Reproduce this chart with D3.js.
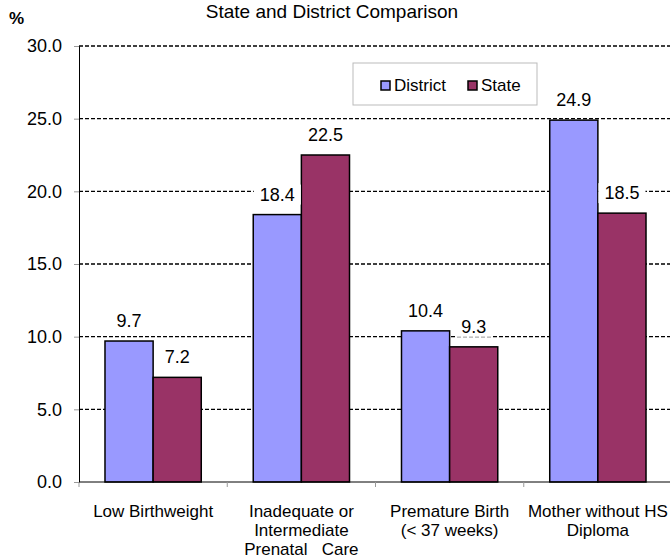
<!DOCTYPE html>
<html>
<head>
<meta charset="utf-8">
<script src="https://cdn.jsdelivr.net/npm/d3@7"></script>
<style>
  body { margin: 0; background: #fff; }
  text { font-family: "Liberation Sans", Arial, sans-serif; fill: #000; }
</style>
</head>
<body>
<div id="chart"></div>
<script>
const categories = [
  ["Low Birthweight"],
  ["Inadequate or", "Intermediate", "Prenatal   Care"],
  ["Premature Birth", "(< 37 weeks)"],
  ["Mother without HS", "Diploma"]
];
const seriesNames = ["District", "State"];
const districtValues = [9.7, 18.4, 10.4, 24.9];
const stateValues = [7.2, 22.5, 9.3, 18.5];
const yTicks = [0, 5, 10, 15, 20, 25, 30];
const colors = ["#9999FF", "#993366"];

const width = 670, height = 559;
const margin = { top: 46, right: -2, bottom: 77, left: 79 };
const innerW = width - margin.left - margin.right;
const innerH = height - margin.top - margin.bottom;

const svg = d3.select("#chart").append("svg")
  .attr("width", width).attr("height", height);

const g = svg.append("g").attr("transform", `translate(${margin.left},${margin.top})`);

const x = d3.scaleBand().domain(d3.range(categories.length)).range([0, innerW]);
const x1 = d3.scaleBand().domain([0, 1]).range([0, x.bandwidth()]).paddingOuter(0.54).paddingInner(0);
const y = d3.scaleLinear().domain([0, 30]).range([innerH, 0]);

// gridlines
g.selectAll("line.grid").data(yTicks.filter(d => d > 0)).join("line")
  .attr("class", "grid")
  .attr("x1", 0).attr("x2", innerW)
  .attr("y1", d => y(d)).attr("y2", d => y(d))
  .attr("stroke", "#000").attr("stroke-width", 1.3)
  .attr("stroke-dasharray", "4,2");

// y axis
const yAxis = g.append("g").call(d3.axisLeft(y).tickValues(yTicks).tickFormat(d3.format(".1f")).tickSize(5).tickPadding(12));
yAxis.select(".domain").attr("stroke", "#000");
yAxis.selectAll(".tick line").attr("stroke", "#999");
yAxis.selectAll("text").style("font-size", "18px").style("font-family", "Liberation Sans, Arial, sans-serif");

// bars
const data = categories.map((c, i) => ({ i, vals: [districtValues[i], stateValues[i]] }));
const groups = g.selectAll("g.cat").data(data).join("g")
  .attr("class", "cat")
  .attr("transform", d => `translate(${x(d.i)},0)`);

groups.selectAll("rect.bar").data(d => d.vals.map((v, s) => ({ v, s }))).join("rect")
  .attr("class", "bar")
  .attr("x", d => x1(d.s)).attr("width", x1.bandwidth())
  .attr("y", d => y(d.v)).attr("height", d => innerH - y(d.v))
  .attr("fill", d => colors[d.s]).attr("stroke", "#000").attr("stroke-width", 1.5);

// value labels with white boxes (they hide the gridlines behind)
const labels = groups.selectAll("g.val").data(d => d.vals.map((v, s) => ({ v, s }))).join("g")
  .attr("class", "val")
  .attr("transform", d => `translate(${x1(d.s) + x1.bandwidth() / 2},${y(d.v) - 14})`);
labels.append("text")
  .attr("text-anchor", "middle")
  .style("font-size", "18px")
  .text(d => d.v.toFixed(1));
labels.each(function() {
  const t = d3.select(this).select("text");
  const bb = t.node().getBBox();
  d3.select(this).insert("rect", "text")
    .attr("x", bb.x - 6).attr("y", bb.y).attr("width", bb.width + 12).attr("height", bb.height)
    .attr("fill", "#fff");
});

// x axis
g.append("line").attr("x1", 0).attr("x2", innerW).attr("y1", innerH).attr("y2", innerH).attr("stroke", "#000");
g.selectAll("line.xtick").data(d3.range(categories.length)).join("line")
  .attr("class", "xtick")
  .attr("x1", d => x(d)).attr("x2", d => x(d))
  .attr("y1", innerH).attr("y2", innerH + 5).attr("stroke", "#999");

g.selectAll("text.cat").data(categories).join("text")
  .attr("class", "cat")
  .attr("text-anchor", "middle")
  .attr("transform", (d, i) => `translate(${x(i) + x.bandwidth() / 2},${innerH + 35})`)
  .style("font-size", "17px")
  .selectAll("tspan").data(d => d).join("tspan")
  .attr("x", 0).attr("dy", (d, i) => i === 0 ? 0 : 19)
  .style("white-space", "pre")
  .text(d => d);

// title
svg.append("text").attr("x", 332).attr("y", 18).attr("text-anchor", "middle")
  .style("font-size", "19px").text("State and District Comparison");
svg.append("text").attr("x", 9).attr("y", 24)
  .style("font-size", "17px").style("font-weight", "bold").text("%");

// legend
const legend = svg.append("g").attr("transform", "translate(353,63)");
legend.append("rect").attr("width", 184).attr("height", 42)
  .attr("fill", "#fff").attr("stroke", "#bbb");
const li = legend.selectAll("g.item").data(seriesNames).join("g")
  .attr("class", "item")
  .attr("transform", (d, i) => `translate(${i === 0 ? 28 : 115},22)`);
li.append("rect").attr("x", 0).attr("y", -4).attr("width", 9).attr("height", 9)
  .attr("fill", (d, i) => colors[i]).attr("stroke", "#000").attr("stroke-width", 1.5);
li.append("text").attr("x", 13).attr("y", 6).style("font-size", "17px").text(d => d);
</script>
</body>
</html>
